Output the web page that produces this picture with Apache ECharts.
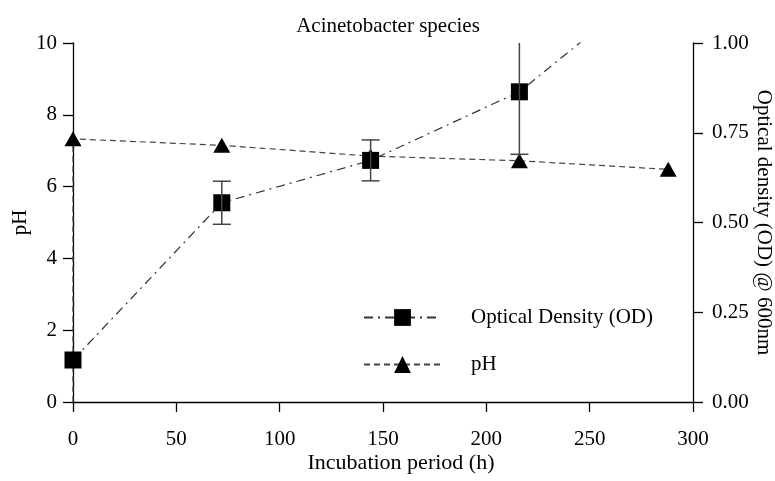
<!DOCTYPE html>
<html>
<head>
<meta charset="utf-8">
<script src="https://cdn.jsdelivr.net/npm/echarts@6/dist/echarts.min.js"></script>
<style>html,body{margin:0;padding:0;background:#fff}#c{width:775px;height:481px}</style>
</head>
<body>
<div id="c"></div>
<script>
// Data
const hours = [0, 72, 144, 216, 288];
const odValues = [0.117, 0.555, 0.673, 0.864, 1.20];
const odErrors = [0, 0.06, 0.057, 0.174, 0];
const phHours = [0, 0, 72, 144, 216, 288];
const phValues = [0, 7.33, 7.15, 6.85, 6.72, 6.48];
const xTicks = [0, 50, 100, 150, 200, 250, 300];

const FONT = 'Liberation Serif';
const FS = 21;
const chart = echarts.init(document.getElementById('c'));

const odData = hours.map((h, i) => [h, odValues[i]]);
const odErr = hours.map((h, i) => [h, odValues[i] - odErrors[i], odValues[i] + odErrors[i]]).filter((d, i) => odErrors[i] > 0);
const phData = phHours.map((h, i) => i === 0 ? { value: [h, phValues[i]], symbol: 'none' } : [h, phValues[i]]);

chart.setOption({
  animation: false,
  title: {
    text: 'Acinetobacter species', left: 383, textAlign: 'center', top: 11,
    textStyle: { fontFamily: FONT, fontSize: FS, fontWeight: 'normal', color: '#000' }
  },
  grid: { left: 73, right: 82, top: 43, bottom: 79, containLabel: false, outerBoundsMode: 'none' },
  legend: {
    orient: 'vertical', left: 358, top: 302, itemWidth: 77, itemHeight: 21, itemGap: 26,
    textStyle: { fontFamily: FONT, fontSize: FS, color: '#000', padding: [0, 0, 0, 25] },
    data: ['Optical Density (OD)', 'pH']
  },
  xAxis: {
    type: 'value', min: 0, max: 300, interval: 50,
    name: 'Incubation period (h)', nameLocation: 'middle', nameGap: 50, nameMoveOverlap: false,
    nameTextStyle: { fontFamily: FONT, fontSize: 22, color: '#000', padding: [0, 0, 0, 36] },
    axisLine: { onZero: false, lineStyle: { color: '#000', width: 1.3 } },
    axisTick: { length: 10, lineStyle: { color: '#000', width: 1.3 } },
    axisLabel: { margin: 27, fontFamily: FONT, fontSize: FS, color: '#000',
      formatter: v => xTicks.includes(v) ? String(v) : '' },
    splitLine: { show: false }
  },
  yAxis: [{
    type: 'value', min: 0, max: 10, interval: 2, position: 'left',
    name: 'pH', nameLocation: 'middle', nameGap: 42, nameMoveOverlap: false,
    nameTextStyle: { fontFamily: FONT, fontSize: FS, color: '#000' },
    axisLine: { show: true, onZero: false, lineStyle: { color: '#000', width: 1.3 } },
    axisTick: { show: true, length: 10, lineStyle: { color: '#000', width: 1.3 } },
    axisLabel: { margin: 16, fontFamily: FONT, fontSize: FS, color: '#000' },
    splitLine: { show: false }
  }, {
    type: 'value', min: 0, max: 1, interval: 0.25, position: 'right',
    name: 'Optical density (OD) @ 600nm', nameLocation: 'middle', nameGap: 60, nameRotate: -90,
    nameMoveOverlap: false,
    nameTextStyle: { fontFamily: FONT, fontSize: FS, color: '#000' },
    axisLine: { show: true, onZero: false, lineStyle: { color: '#000', width: 1.3 } },
    axisTick: { show: true, length: 10, lineStyle: { color: '#000', width: 1.3 } },
    axisLabel: { margin: 19, fontFamily: FONT, fontSize: FS, color: '#000', formatter: v => v.toFixed(2) },
    splitLine: { show: false }
  }],
  series: [{
    name: 'Optical Density (OD)', type: 'line', yAxisIndex: 1, data: odData,
    symbol: 'rect', symbolSize: 17, clip: true, z: 4,
    itemStyle: { color: '#000' },
    lineStyle: { color: '#333', width: 1.2, type: [9, 5, 2, 5] }
  }, {
    name: 'pH', type: 'line', yAxisIndex: 0, data: phData,
    symbol: 'triangle', symbolSize: [17, 15], clip: true, z: 3,
    itemStyle: { color: '#000' },
    lineStyle: { color: '#444', width: 1.2, type: [6, 4] }
  }, {
    type: 'custom', yAxisIndex: 1, data: odErr, z: 5, silent: true,
    renderItem: function (params, api) {
      const x = api.coord([api.value(0), 0])[0];
      const cs = params.coordSys;
      const lo = api.coord([api.value(0), api.value(1)])[1];
      const hiRaw = api.coord([api.value(0), api.value(2)])[1];
      const hi = Math.max(hiRaw, cs.y);
      const w = 9;
      const style = { stroke: '#444', lineWidth: 1.5 };
      const children = [
        { type: 'line', shape: { x1: x, y1: lo, x2: x, y2: hi }, style },
        { type: 'line', shape: { x1: x - w, y1: lo, x2: x + w, y2: lo }, style }
      ];
      if (hiRaw >= cs.y) children.push({ type: 'line', shape: { x1: x - w, y1: hi, x2: x + w, y2: hi }, style });
      return { type: 'group', children };
    }
  }]
});
</script>
</body>
</html>
